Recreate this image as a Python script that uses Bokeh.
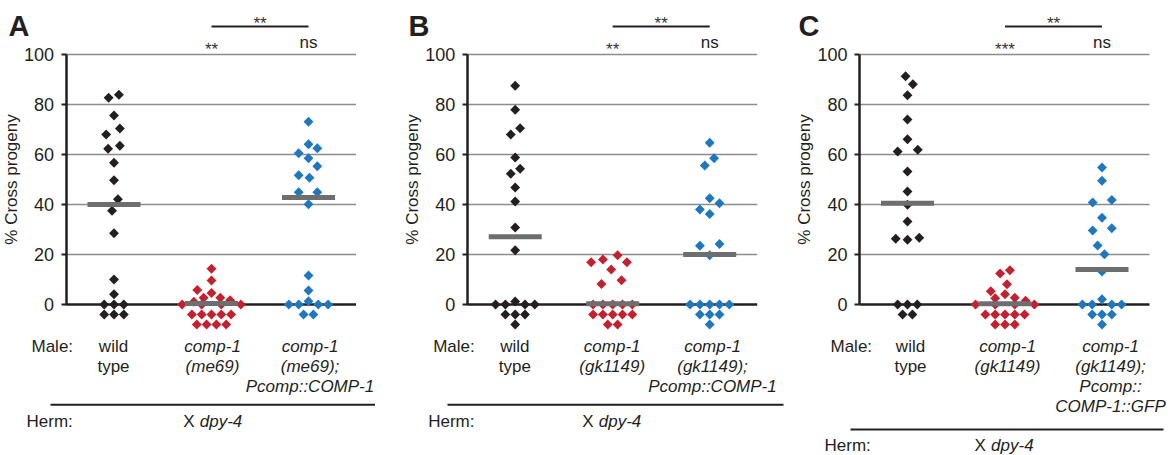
import numpy as np
from bokeh.plotting import figure
from bokeh.models import Range1d, LinearAxis, FixedTicker
from bokeh.core.properties import value
from bokeh.embed import file_html
from bokeh.resources import INLINE

# ---------------- data ----------------
y_ticks = [0, 20, 40, 60, 80, 100]
panel_letters = ["A", "B", "C"]
y_axis_title = "% Cross progeny"

# each group: values (% cross progeny), beeswarm slot (horizontal), stack row for zeros
A_wt_vals = [83.9, 82.7, 75.6, 70.4, 68.0, 63.5, 62.3, 56.7, 49.7, 42.1, 37.5, 28.5, 10.0, 4.1, 0, 0, 0, 0, 0, 0]
A_wt_slot = [0.5, -0.55, 0, 0.6, -0.8, 0.6, -0.6, 0, 0, 0.4, -0.2, 0, 0, 0, -1, 0, 1, -1, 0, 1]
A_wt_row = [0] * 14 + [0, 0, 0, 1, 1, 1]

A_mut_vals = [14.3, 9.6, 5.8, 4.6, 2.7, 2.7, 1.7, 1.1, 0, 0, 0, 0, 0, 0, 0, 0, 0, 0, 0, 0, 0]
A_mut_slot = [0, 0, -1.45, 0, -0.8, 0.9, 1.9, -1.8, -3, -1, 1, 3, -2, -1, 0, 1, 2, -1.5, -0.5, 0.5, 1.5]
A_mut_row = [0] * 8 + [0] * 4 + [1] * 5 + [2] * 4

A_res_vals = [73.1, 64.1, 62.5, 60.5, 58.5, 55.3, 51.7, 50.7, 44.9, 44.9, 40.1, 11.6, 5.6, 1.3, 0, 0, 0, 0, 0, 0]
A_res_slot = [0, 0, 0.9, -1, 0, 0.9, -1, 0.1, -1, 0.9, 0, 0, 0, 0, -2, -1, 1, 2, -0.5, 0.5]
A_res_row = [0] * 14 + [0] * 4 + [1] * 2

B_wt_vals = [87.5, 77.9, 70.5, 68.0, 58.8, 54.3, 52.3, 46.8, 41.2, 30.8, 21.7, 1.2, 0, 0, 0, 0, 0, 0, 0, 0]
B_wt_slot = [0, 0, 0.5, -0.45, 0, 0.5, -0.45, 0, 0, 0, 0, 0, -2, -1, 1, 2, -1, 0, 1, 0]
B_wt_row = [0] * 12 + [0] * 4 + [1] * 3 + [2]

B_mut_vals = [19.7, 18.0, 16.9, 16.9, 14.0, 9.7, 8.2, 0, 0, 0, 0, 0, 0, 0, 0, 0, 0, 0, 0]
B_mut_slot = [0.5, -1, -2.2, 1.45, -0.15, 0.9, -1.15, -2, -1, 0, 1, 2, -2, -1, 0, 1, 2, -0.5, 0.5]
B_mut_row = [0] * 7 + [0] * 5 + [1] * 5 + [2] * 2

B_res_vals = [64.7, 58.5, 55.6, 42.5, 40.5, 38.0, 36.2, 24.2, 23.5, 19.7, 0, 0, 0, 0, 0, 0, 0, 0, 0]
B_res_slot = [0, 0.45, -0.5, 0, 1, -1, 0, 1, -1, 0, -2, -1, 0, 1, 2, -1, 0, 1, 0]
B_res_row = [0] * 10 + [0] * 5 + [1] * 3 + [2]

C_wt_vals = [91.3, 88.1, 83.7, 74.0, 66.1, 61.9, 61.2, 53.2, 45.2, 39.9, 33.2, 26.7, 26.3, 25.9, 0, 0, 0, 0, 0]
C_wt_slot = [-0.2, 0.55, 0, 0, 0, 1.05, -1, 0, 0, 0, 0, 1.2, -1.2, 0, -1, 0, 1, -0.5, 0.5]
C_wt_row = [0] * 14 + [0] * 3 + [1] * 2

C_mut_vals = [13.7, 12.4, 8.1, 5.3, 4.1, 2.7, 2.5, 1.5, 0, 0, 0, 0, 0, 0, 0, 0, 0, 0, 0, 0]
C_mut_slot = [0.5, -0.5, 0.2, -1.45, 0, 1, -1, 2.1, -3, -1, 1, 3, -2, -1, 0, 1, 2, -1, 0, 1]
C_mut_row = [0] * 8 + [0] * 4 + [1] * 5 + [2] * 3

C_res_vals = [54.8, 49.5, 41.8, 40.8, 34.7, 30.5, 29.6, 23.6, 20.1, 13.2, 2.1, 0, 0, 0, 0, 0, 0, 0, 0]
C_res_slot = [0, 0, 1, -0.95, 0, 1, -0.95, -0.45, 0.25, 0, 0, -2, -1, 1, 2, -1, 0, 1, 0]
C_res_row = [0] * 11 + [0] * 4 + [1] * 3 + [2]

A_medians = [40.0, 0.4, 42.8]
B_medians = [27.1, 0.3, 20.0]
C_medians = [40.5, 0.3, 14.0]

sig_vs_wt = [["**", "ns"], ["**", "ns"], ["***", "ns"]]
sig_bracket = ["**", "**", "**"]

male_labels_A = [["wild", "type"], ["comp-1", "(me69)"], ["comp-1", "(me69);", "Pcomp::COMP-1"]]
male_labels_B = [["wild", "type"], ["comp-1", "(gk1149)"], ["comp-1", "(gk1149);", "Pcomp::COMP-1"]]
male_labels_C = [["wild", "type"], ["comp-1", "(gk1149)"], ["comp-1", "(gk1149);", "Pcomp::", "COMP-1::GFP"]]
herm_label = "X"
herm_strain = "dpy-4"

# ---------------- layout / style ----------------
W, H = 1171, 455
Y0_PX, PX_PER_UNIT = 304.0, 2.5
def Y(px):
    return (Y0_PX - px) / PX_PER_UNIT

# empirical correction: rendered alphabetic baseline sits ~0.35em lower than requested
def YB(base_px, fs):
    return Y(base_px - 0.35 * fs)

axis_x = [65.5, 466.7, 859.0]
cat_dx = [48.0, 145.5, 242.5]
slot_px = 9.8
row_units = 4.0
grid_len = 290
colors = ["#231f20", "#c4202e", "#1f78be"]
median_color = "#6d6e70"
ink = "#231f20"
FONT = "Liberation Sans"
FS = 17

p = figure(width=W, height=H, x_range=Range1d(0, W), y_range=Range1d(Y(H), Y(0)),
           x_axis_type=None, y_axis_type=None, toolbar_location=None,
           output_backend="svg", min_border=0, outline_line_color=None)
p.background_fill_color = "white"
p.border_fill_color = "white"

panels = [
    dict(groups=[(A_wt_vals, A_wt_slot, A_wt_row), (A_mut_vals, A_mut_slot, A_mut_row), (A_res_vals, A_res_slot, A_res_row)],
         medians=A_medians, labels=male_labels_A,
         label_x=[113, 212, 309.5], label_base=[351.5, 371.5, 391.5, 411.5],
         male_x=31, herm_x=26, herm_base=426.7, x_x=182.7, dpy_x=199.3,
         rule=(50, 374.5, 404.3), letter_x=8),
    dict(groups=[(B_wt_vals, B_wt_slot, B_wt_row), (B_mut_vals, B_mut_slot, B_mut_row), (B_res_vals, B_res_slot, B_res_row)],
         medians=B_medians, labels=male_labels_B,
         label_x=[514.3, 611.7, 712.0], label_base=[351.5, 371.5, 391.5, 411.5],
         male_x=432.7, herm_x=427.7, herm_base=426.7, x_x=581.7, dpy_x=598.3,
         rule=(447, 783, 404.3), letter_x=408),
    dict(groups=[(C_wt_vals, C_wt_slot, C_wt_row), (C_mut_vals, C_mut_slot, C_mut_row), (C_res_vals, C_res_slot, C_res_row)],
         medians=C_medians, labels=male_labels_C,
         label_x=[910, 1007, 1110], label_base=[351.5, 371.5, 391.5, 411.5],
         male_x=830, herm_x=824, herm_base=450.5, x_x=974, dpy_x=990.6,
         rule=(850, 1163, 429), letter_x=798),
]

for i, pan in enumerate(panels):
    ax0 = axis_x[i]
    centers = [ax0 + d for d in cat_dx]

    # horizontal grid lines and zero line
    gy = [t for t in y_ticks if t != 0]
    p.segment(x0=[ax0] * len(gy), x1=[ax0 + grid_len] * len(gy), y0=gy, y1=gy,
              line_color="#8c8c8c", line_width=1.3)
    p.segment(x0=[ax0], x1=[ax0 + grid_len], y0=[0], y1=[0], line_color=ink, line_width=2.5)

    # points
    for g, (vals, slots, rows) in enumerate(pan["groups"]):
        xs = [centers[g] + s * slot_px for s in slots]
        ys = [v - r * row_units for v, r in zip(vals, rows)]
        p.scatter(xs, ys, marker="square", size=7, angle=np.pi / 4,
                  fill_color=colors[g], line_color=None)

    # medians
    p.rect(x=centers, y=pan["medians"], width=53, height=5, height_units="screen",
           fill_color=median_color, line_color=None)

    # y axis
    ax = LinearAxis(fixed_location=ax0, bounds=(0, 100), ticker=FixedTicker(ticks=y_ticks),
                    axis_label=y_axis_title,
                    axis_label_text_font=FONT, axis_label_text_font_size="17px",
                    axis_label_text_font_style="normal", axis_label_text_color=ink,
                    axis_label_standoff=0,
                    major_label_text_font=FONT, major_label_text_font_size="18px",
                    major_label_text_color=ink, major_label_standoff=7,
                    major_tick_out=5, major_tick_in=0, minor_tick_out=0, minor_tick_in=0,
                    axis_line_width=2.5, axis_line_color=ink,
                    major_tick_line_width=2, major_tick_line_color=ink)
    p.add_layout(ax, "left")

    # panel letter
    p.text(x=[pan["letter_x"]], y=[YB(36, 29)], text=[panel_letters[i]],
           text_font=value(FONT), text_font_size=value("29px"), text_font_style="bold",
           text_color=ink, text_align="left", text_baseline="alphabetic")

    # significance
    p.text(x=[centers[1]], y=[Y(48.5)], text=[sig_vs_wt[i][0]],
           text_font=value(FONT), text_font_size=value("17px"), text_color="#333333",
           text_align="center", text_baseline="alphabetic")
    p.text(x=[centers[2]], y=[YB(48.3, FS)], text=[sig_vs_wt[i][1]],
           text_font=value(FONT), text_font_size=value("17px"), text_color=ink,
           text_align="center", text_baseline="alphabetic")
    p.segment(x0=[centers[1]], x1=[centers[2]], y0=[Y(26)], y1=[Y(26)], line_color=ink, line_width=2)
    p.text(x=[(centers[1] + centers[2]) / 2], y=[Y(22.5)], text=[sig_bracket[i]],
           text_font=value(FONT), text_font_size=value("17px"), text_color="#333333",
           text_align="center", text_baseline="alphabetic")

    # male labels
    p.text(x=[pan["male_x"]], y=[YB(pan["label_base"][0], FS)], text=["Male:"],
           text_font=value(FONT), text_font_size=value("17px"), text_color=ink,
           text_align="left", text_baseline="alphabetic")
    for g, lines in enumerate(pan["labels"]):
        style = "normal" if g == 0 else "italic"
        p.text(x=[pan["label_x"][g]] * len(lines), y=[YB(b, FS) for b in pan["label_base"][:len(lines)]],
               text=lines, text_font=value(FONT), text_font_size=value("17px"),
               text_font_style=style, text_color=ink, text_align="center", text_baseline="alphabetic")

    # rule and herm labels
    rx0, rx1, ry = pan["rule"]
    p.segment(x0=[rx0], x1=[rx1], y0=[Y(ry)], y1=[Y(ry)], line_color=ink, line_width=2)
    hb = YB(pan["herm_base"], FS)
    p.text(x=[pan["herm_x"]], y=[hb], text=["Herm:"],
           text_font=value(FONT), text_font_size=value("17px"), text_color=ink,
           text_align="left", text_baseline="alphabetic")
    p.text(x=[pan["x_x"]], y=[hb], text=[herm_label],
           text_font=value(FONT), text_font_size=value("17px"), text_color=ink,
           text_align="left", text_baseline="alphabetic")
    p.text(x=[pan["dpy_x"]], y=[hb], text=[herm_strain],
           text_font=value(FONT), text_font_size=value("17px"), text_font_style="italic",
           text_color=ink, text_align="left", text_baseline="alphabetic")

open("out.html", "w").write(file_html(p, INLINE))
